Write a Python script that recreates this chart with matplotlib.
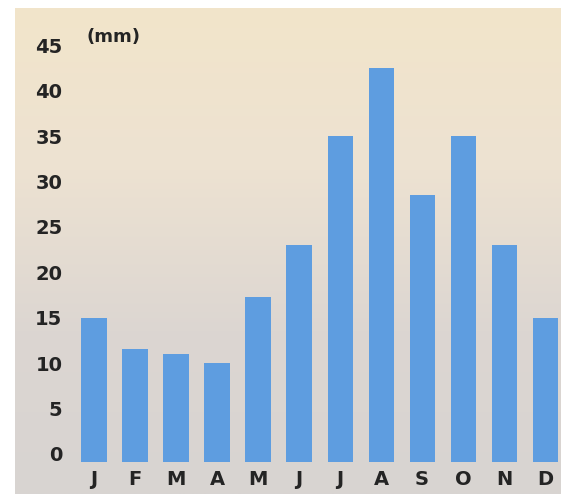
import matplotlib
matplotlib.use("Agg")
import matplotlib.pyplot as plt
import numpy as np
from matplotlib.colors import LinearSegmentedColormap

# monthly rainfall (mm)
months = ["J", "F", "M", "A", "M", "J", "J", "A", "S", "O", "N", "D"]
rain = [15, 11.5, 11, 10, 17.3, 23, 35, 42.5, 28.5, 35, 23, 15]
yticks = [0, 5, 10, 15, 20, 25, 30, 35, 40, 45]

fig = plt.figure(figsize=(5.61, 4.94), dpi=100)
fig.patch.set_facecolor("white")

# beige-to-grey panel behind the chart
bg = fig.add_axes([15 / 561, 0, 546 / 561, 486 / 494])
cmap = LinearSegmentedColormap.from_list(
    "panel", ["#f2e5ca", "#ede2d2", "#dcd6d1", "#d8d4d2"])
grad = np.linspace(0, 1, 256).reshape(-1, 1)
bg.imshow(grad, aspect="auto", cmap=cmap, extent=[0, 1, 0, 1])
bg.set_axis_off()

ax = fig.add_axes([69.4 / 561, 31 / 494, 1 - 69.4 / 561, 0.864])
ax.patch.set_alpha(0)
x = np.arange(len(months))
base = -0.9
ax.bar(x, np.array(rain) - base, bottom=base, width=0.61, color="#5e9de0")
ax.set_xlim(-0.6, 11.39)
ax.set_ylim(-1, 46)
ax.set_yticks(yticks)
ax.set_xticks(x)
ax.set_xticklabels(months)
for s in ax.spines.values():
    s.set_visible(False)
ax.tick_params(length=0, labelsize=14, colors="#242424", pad=5)
for lab in ax.get_xticklabels() + ax.get_yticklabels():
    lab.set_fontweight("bold")

fig.text(87 / 561, (494 - 37) / 494, "(mm)", fontsize=13, fontweight="bold",
         color="#242424", va="center", ha="left")

fig.savefig("out.png", dpi=100)
